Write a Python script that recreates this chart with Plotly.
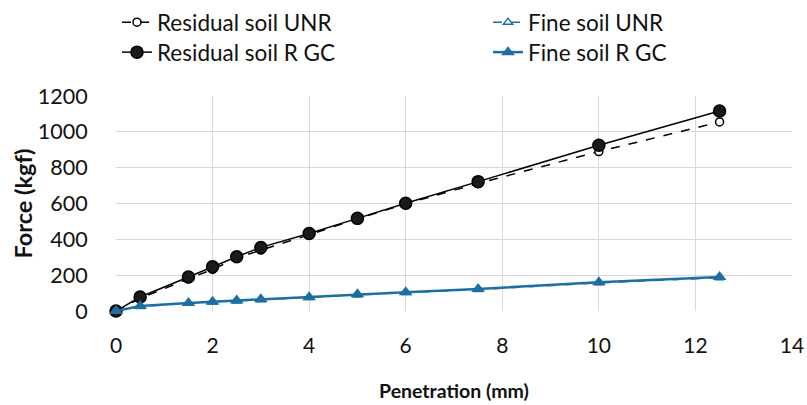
import plotly.graph_objects as go

penetration = [0, 0.5, 1.5, 2, 2.5, 3, 4, 5, 6, 7.5, 10, 12.5]
residual_unr = [0, 70, 180, 232, 295, 340, 425, 515, 598, 712, 890, 1055]
fine_unr = [0, 25, 43, 50, 56, 63, 75, 90, 103, 120, 157, 186]
residual_rgc = [0, 78, 190, 247, 303, 355, 433, 517, 601, 722, 925, 1116]
fine_rgc = [0, 28, 45, 52, 58, 66, 77, 93, 105, 123, 160, 190]

BLUE = "#1d6fa3"
FONT = "Lato"
LEGFONT = dict(family=FONT, size=22.5, color="#111111")

fig = go.Figure()
fig.add_trace(go.Scatter(
    x=penetration, y=residual_unr, name="Residual soil UNR", mode="lines+markers",
    line=dict(color="black", width=1.5, dash="dash"),
    marker=dict(symbol="circle", size=8, color="white", line=dict(color="black", width=1.5)),
    cliponaxis=False, legend="legend"))
fig.add_trace(go.Scatter(
    x=penetration, y=fine_unr, name="Fine soil UNR", mode="lines+markers",
    line=dict(color=BLUE, width=1.5, dash="dash"),
    marker=dict(symbol="triangle-up", size=8, color="white", line=dict(color=BLUE, width=1.5)),
    cliponaxis=False, legend="legend2"))
fig.add_trace(go.Scatter(
    x=penetration, y=residual_rgc, name="Residual soil R GC", mode="lines+markers",
    line=dict(color="black", width=1.5),
    marker=dict(symbol="circle", size=12, color="#1a1a1a", line=dict(color="black", width=1.5)),
    cliponaxis=False, legend="legend3"))
fig.add_trace(go.Scatter(
    x=penetration, y=fine_rgc, name="Fine soil R GC", mode="lines+markers",
    line=dict(color=BLUE, width=2.5),
    marker=dict(symbol="triangle-up", size=12, color=BLUE),
    cliponaxis=False, legend="legend4"))


def leg(xpx, ytop_px):
    return dict(orientation="v", xref="container", yref="container",
                x=xpx / 807, y=1 - ytop_px / 405, xanchor="left", yanchor="top",
                font=LEGFONT, itemwidth=30, tracegroupgap=0, traceorder="normal",
                bgcolor="rgba(0,0,0,0)")


fig.update_layout(
    width=807, height=405,
    margin=dict(l=116, r=15, t=96, b=94, autoexpand=False),
    paper_bgcolor="white", plot_bgcolor="white",
    font=dict(family=FONT, size=18, color="#111111"),
    showlegend=True,
    legend=leg(117, 1),
    legend2=leg(488, 1),
    legend3=leg(117, 31),
    legend4=leg(488, 31),
    annotations=[dict(text="<b>Force (kgf)</b>", xref="paper", yref="paper",
                      x=-94 / 676, y=0.5, xanchor="center", yanchor="middle",
                      textangle=-90, showarrow=False,
                      font=dict(family=FONT, size=23.5, color="#111111"))],
)
fig.update_xaxes(
    range=[0, 14], dtick=2, tick0=0,
    showgrid=True, gridcolor="#d9d9d9", gridwidth=1,
    zeroline=False, showline=False,
    ticks="", ticklabelstandoff=20,
    tickfont=dict(family=FONT, size=21, color="#111111"),
    title=dict(text="<b>Penetration (mm)</b>", font=dict(family=FONT, size=19.5), standoff=28),
)
fig.update_yaxes(
    range=[0, 1200], dtick=200, tick0=0,
    showgrid=True, gridcolor="#d9d9d9", gridwidth=1,
    zeroline=False, showline=False,
    ticks="outside", ticklen=23, tickcolor="rgba(0,0,0,0)",
    tickfont=dict(family=FONT, size=21.5, color="#111111"),
)

fig.write_html("out.html", config={"displayModeBar": False},
               post_script="document.body.style.margin='0';")
